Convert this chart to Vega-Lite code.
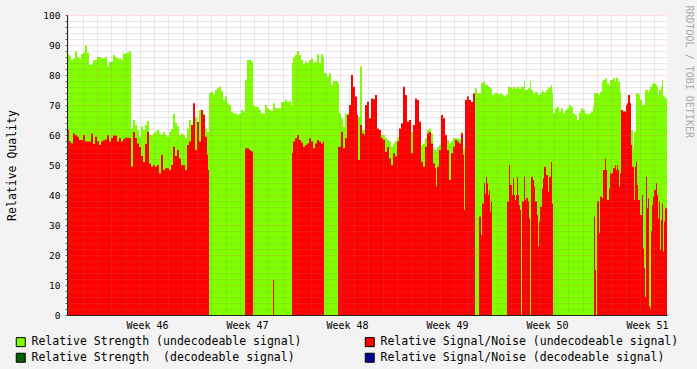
{
"$schema": "https://vega.github.io/schema/vega-lite/v6.json",
"width": 600, "height": 300,
"autosize": "none",
"padding": {"left": 67, "top": 15, "right": 30, "bottom": 54},
"background": "#f3f3f3",
"config": {"view": {"fill": "white", "stroke": null}, "font": "DejaVu Sans Mono"},
"data": {"values": [
{"day":0,"strength":86.9,"snr":61.7},{"day":0.14,"strength":86.5,"snr":57.8},{"day":0.28,"strength":85,"snr":57.2},{"day":0.42,"strength":85.5,"snr":60.5},{"day":0.56,"strength":87.8,"snr":60},{"day":0.7,"strength":86,"snr":59.4},{"day":0.84,"strength":85.5,"snr":58.3},{"day":0.98,"strength":87,"snr":58.3},{"day":1.12,"strength":87.5,"snr":60},{"day":1.26,"strength":89.8,"snr":57.8},{"day":1.4,"strength":87.5,"snr":57.8},{"day":1.54,"strength":83.3,"snr":57.8},{"day":1.68,"strength":83.5,"snr":60.5},{"day":1.82,"strength":85,"snr":57},{"day":1.96,"strength":85,"snr":59.4},{"day":2.1,"strength":86,"snr":57.8},{"day":2.24,"strength":86,"snr":56.7},{"day":2.38,"strength":85.5,"snr":57.8},{"day":2.52,"strength":85.5,"snr":58.3},{"day":2.66,"strength":86,"snr":58.5},{"day":2.8,"strength":82.8,"snr":60},{"day":2.94,"strength":84.4,"snr":57.8},{"day":3.08,"strength":84.4,"snr":59},{"day":3.22,"strength":86.7,"snr":59.8},{"day":3.36,"strength":86,"snr":59.8},{"day":3.5,"strength":85.5,"snr":57.8},{"day":3.64,"strength":85.5,"snr":59},{"day":3.78,"strength":85,"snr":57.8},{"day":3.92,"strength":87.2,"snr":58.7},{"day":4.06,"strength":87.2,"snr":59.1},{"day":4.2,"strength":87.5,"snr":59.1},{"day":4.34,"strength":88,"snr":59},
{"day":4.48,"strength":62.2,"snr":49.4},{"day":4.62,"strength":65,"snr":61},{"day":4.76,"strength":63.5,"snr":59},{"day":4.9,"strength":61.7,"snr":57.2},{"day":5.04,"strength":59.4,"snr":56},{"day":5.18,"strength":62.8,"snr":53},{"day":5.32,"strength":61.7,"snr":51},{"day":5.46,"strength":63.3,"snr":57},{"day":5.6,"strength":64.7,"snr":61},{"day":5.74,"strength":60,"snr":50.5},{"day":5.88,"strength":60,"snr":49.4},{"day":6.02,"strength":60.5,"snr":50},{"day":6.16,"strength":61.1,"snr":49.4},{"day":6.3,"strength":61.7,"snr":50},{"day":6.44,"strength":60.5,"snr":47.2},{"day":6.58,"strength":60,"snr":53.3},{"day":6.72,"strength":61.1,"snr":48.3},{"day":6.86,"strength":60,"snr":48.9},
{"day":7,"strength":59.4,"snr":48.9},{"day":7.14,"strength":61,"snr":48.3},{"day":7.28,"strength":62,"snr":50},{"day":7.42,"strength":67,"snr":56.1},{"day":7.56,"strength":64,"snr":53},{"day":7.7,"strength":62.8,"snr":55},{"day":7.84,"strength":60,"snr":52.2},{"day":7.98,"strength":60.5,"snr":50},{"day":8.12,"strength":60,"snr":50},{"day":8.26,"strength":58.9,"snr":48.3},{"day":8.4,"strength":62.2,"snr":56.7},{"day":8.54,"strength":65,"snr":57.8},{"day":8.68,"strength":63.3,"snr":63.3},{"day":8.82,"strength":67.2,"snr":70.6},{"day":8.96,"strength":66,"snr":55},{"day":9.1,"strength":60.5,"snr":64.4},{"day":9.24,"strength":68.3,"snr":57.8},{"day":9.38,"strength":66,"snr":68.3},{"day":9.52,"strength":67.2,"snr":66.7},{"day":9.66,"strength":62.2,"snr":59.4},{"day":9.8,"strength":61,"snr":53.3},{"day":9.87,"strength":61,"snr":48.3},
{"day":9.94,"strength":74,"snr":0},{"day":10.08,"strength":74.4,"snr":0},{"day":10.22,"strength":73.5,"snr":0},{"day":10.36,"strength":75,"snr":0},{"day":10.5,"strength":75.6,"snr":0},{"day":10.64,"strength":76.1,"snr":0},{"day":10.78,"strength":74.5,"snr":0},{"day":10.92,"strength":71.7,"snr":0},{"day":11.06,"strength":72.8,"snr":0},{"day":11.2,"strength":70.6,"snr":0},{"day":11.34,"strength":70,"snr":0},{"day":11.48,"strength":67.8,"snr":0},{"day":11.62,"strength":67.2,"snr":0},{"day":11.76,"strength":67.2,"snr":0},{"day":11.9,"strength":66.7,"snr":0},{"day":12.04,"strength":67.2,"snr":0},{"day":12.18,"strength":68.3,"snr":0},{"day":12.32,"strength":67.8,"snr":0},
{"day":12.46,"strength":78.3,"snr":55.6},{"day":12.6,"strength":85,"snr":55.6},{"day":12.74,"strength":85,"snr":55},{"day":12.88,"strength":84.4,"snr":54.5},
{"day":13.02,"strength":70,"snr":0},{"day":13.16,"strength":69.4,"snr":0},{"day":13.3,"strength":69.4,"snr":0},{"day":13.44,"strength":68.3,"snr":0},{"day":13.58,"strength":67.2,"snr":0},{"day":13.72,"strength":67.2,"snr":0},{"day":13.86,"strength":70,"snr":0},{"day":14,"strength":68.9,"snr":0},{"day":14.14,"strength":68.3,"snr":0},{"day":14.28,"strength":68,"snr":0},{"day":14.42,"strength":70.6,"snr":11.7},{"day":14.49,"strength":70.6,"snr":0},{"day":14.56,"strength":68.9,"snr":0},{"day":14.7,"strength":68.9,"snr":0},{"day":14.84,"strength":68.9,"snr":0},{"day":14.98,"strength":71,"snr":0},{"day":15.12,"strength":71,"snr":0},{"day":15.26,"strength":71.7,"snr":0},{"day":15.4,"strength":71,"snr":0},{"day":15.54,"strength":71.3,"snr":0},{"day":15.68,"strength":70,"snr":0},
{"day":15.75,"strength":84,"snr":54},{"day":15.82,"strength":85.8,"snr":57.8},{"day":15.96,"strength":86.7,"snr":58.9},{"day":16.1,"strength":88,"snr":60},{"day":16.24,"strength":86.7,"snr":58.3},{"day":16.38,"strength":85,"snr":57.5},{"day":16.52,"strength":83.6,"snr":56.1},{"day":16.66,"strength":84.4,"snr":56.7},{"day":16.8,"strength":84,"snr":57.2},{"day":16.94,"strength":85,"snr":58.9},{"day":17.08,"strength":85.5,"snr":57.8},{"day":17.22,"strength":84,"snr":55.6},{"day":17.36,"strength":84.4,"snr":57.2},{"day":17.5,"strength":86.9,"snr":58.3},{"day":17.64,"strength":84,"snr":57.8},{"day":17.78,"strength":86.9,"snr":57.2},{"day":17.92,"strength":85.8,"snr":57.8},
{"day":17.99,"strength":80.6,"snr":0},{"day":18.2,"strength":79.4,"snr":0},{"day":18.34,"strength":80.6,"snr":0},{"day":18.48,"strength":76.6,"snr":0},{"day":18.62,"strength":78,"snr":0},{"day":18.9,"strength":78,"snr":0},
{"day":18.97,"strength":77.2,"snr":56.1},{"day":19.04,"strength":67.2,"snr":56.1},{"day":19.18,"strength":65.6,"snr":61.1},{"day":19.32,"strength":62.8,"snr":55.6},{"day":19.46,"strength":67.2,"snr":58.9},{"day":19.6,"strength":67.2,"snr":66.7},{"day":19.74,"strength":68.3,"snr":70},{"day":19.88,"strength":72,"snr":80},{"day":20.02,"strength":72,"snr":76.1},{"day":20.16,"strength":66.7,"snr":72.8},{"day":20.3,"strength":66.7,"snr":66.7},{"day":20.37,"strength":66,"snr":51.7},{"day":20.51,"strength":82.8,"snr":63.3},{"day":20.65,"strength":61.7,"snr":60.5},{"day":20.79,"strength":61.7,"snr":60},{"day":20.86,"strength":61,"snr":70},
{"day":21,"strength":65,"snr":71.1},{"day":21.14,"strength":60,"snr":65.6},{"day":21.28,"strength":62,"snr":72.2},{"day":21.42,"strength":62,"snr":72},{"day":21.56,"strength":62,"snr":73.3},{"day":21.7,"strength":60,"snr":62.2},{"day":21.84,"strength":60,"snr":61.7},{"day":21.98,"strength":60,"snr":58.9},{"day":22.12,"strength":60,"snr":58.3},{"day":22.26,"strength":59,"snr":54.4},{"day":22.4,"strength":58.3,"snr":56},{"day":22.54,"strength":57.8,"snr":52.2},{"day":22.68,"strength":56.1,"snr":50},{"day":22.82,"strength":57.2,"snr":53.9},{"day":22.96,"strength":57.8,"snr":52.8},{"day":23.1,"strength":59.4,"snr":57.8},{"day":23.24,"strength":58,"snr":62.2},{"day":23.38,"strength":60,"snr":63.9},{"day":23.52,"strength":60,"snr":76.1},{"day":23.66,"strength":60,"snr":73.3},{"day":23.8,"strength":60,"snr":64.4},{"day":23.94,"strength":60,"snr":65},{"day":24.08,"strength":61,"snr":53.9},{"day":24.22,"strength":61,"snr":63.3},{"day":24.36,"strength":60,"snr":72.2},{"day":24.5,"strength":60,"snr":71.7},{"day":24.64,"strength":60,"snr":64.4},{"day":24.78,"strength":56.7,"snr":51.1},{"day":24.92,"strength":57.2,"snr":49.4},{"day":25.06,"strength":58.9,"snr":56.1},{"day":25.2,"strength":61.7,"snr":60.5},{"day":25.34,"strength":62.2,"snr":61},{"day":25.48,"strength":60.5,"snr":57.2},{"day":25.62,"strength":55.6,"snr":50.5},{"day":25.76,"strength":55,"snr":48.9},{"day":25.83,"strength":54.4,"snr":42.8},{"day":25.9,"strength":56,"snr":49.4},{"day":26.04,"strength":56.7,"snr":55},{"day":26.18,"strength":60,"snr":66.7},{"day":26.32,"strength":60,"snr":65.6},{"day":26.46,"strength":60,"snr":60},{"day":26.6,"strength":58.3,"snr":55},{"day":26.74,"strength":57.2,"snr":45},{"day":26.88,"strength":57.8,"snr":53.9},{"day":27.02,"strength":58.9,"snr":56.1},{"day":27.16,"strength":58.9,"snr":58.3},{"day":27.3,"strength":58.9,"snr":57.8},{"day":27.44,"strength":58.7,"snr":57.2},{"day":27.58,"strength":61,"snr":60.5},{"day":27.72,"strength":55.6,"snr":53.3},{"day":27.79,"strength":55.6,"snr":35},{"day":27.86,"strength":55,"snr":71.7},
{"day":28,"strength":65,"snr":72.8},{"day":28.14,"strength":65,"snr":71.7},{"day":28.28,"strength":65,"snr":71},{"day":28.42,"strength":70,"snr":73.9},{"day":28.56,"strength":75.6,"snr":0},{"day":28.7,"strength":73.9,"snr":0},{"day":28.84,"strength":73.9,"snr":32.8},{"day":28.98,"strength":77.2,"snr":26.7},{"day":29.05,"strength":77.5,"snr":37.2},{"day":29.19,"strength":78,"snr":43.9},{"day":29.26,"strength":76.7,"snr":40.5},{"day":29.33,"strength":76.7,"snr":46.1},{"day":29.4,"strength":76.7,"snr":43.9},{"day":29.47,"strength":76.1,"snr":40},{"day":29.54,"strength":76,"snr":41.5},{"day":29.61,"strength":75.6,"snr":34.4},{"day":29.68,"strength":75.6,"snr":37.8},
{"day":29.75,"strength":73.3,"snr":0},{"day":29.89,"strength":73.9,"snr":0},{"day":30.03,"strength":74.1,"snr":0},{"day":30.17,"strength":73.7,"snr":0},{"day":30.31,"strength":73.9,"snr":0},{"day":30.45,"strength":73.3,"snr":0},{"day":30.59,"strength":72.8,"snr":0},{"day":30.73,"strength":73.5,"snr":0},
{"day":30.8,"strength":73.5,"snr":37.8},{"day":30.87,"strength":76,"snr":37.8},{"day":30.94,"strength":76.1,"snr":50},{"day":31.01,"strength":75.8,"snr":43.3},{"day":31.15,"strength":75.3,"snr":40},{"day":31.22,"strength":76.1,"snr":45.6},{"day":31.29,"strength":76,"snr":40},{"day":31.36,"strength":75.3,"snr":38.3},{"day":31.43,"strength":75.8,"snr":40},{"day":31.5,"strength":76,"snr":46.1},{"day":31.57,"strength":76.1,"snr":40},{"day":31.64,"strength":75.3,"snr":36.7},{"day":31.71,"strength":75.3,"snr":35},{"day":31.78,"strength":76.1,"snr":0},{"day":31.85,"strength":76,"snr":37.8},{"day":31.99,"strength":77.8,"snr":46.1},{"day":32.06,"strength":75,"snr":38.3},{"day":32.13,"strength":75,"snr":39},{"day":32.27,"strength":75.6,"snr":37.8},{"day":32.34,"strength":75.6,"snr":32.2},{"day":32.41,"strength":78,"snr":0},{"day":32.48,"strength":75,"snr":46.1},{"day":32.62,"strength":73.9,"snr":45},{"day":32.69,"strength":73.9,"snr":42.8},{"day":32.76,"strength":74.4,"snr":37.8},{"day":32.9,"strength":74.2,"snr":33.3},{"day":32.97,"strength":73.3,"snr":22.8},{"day":33.04,"strength":73.3,"snr":31.1},{"day":33.11,"strength":73.9,"snr":36.1},{"day":33.25,"strength":75,"snr":42.2},{"day":33.32,"strength":74.4,"snr":45.6},{"day":33.39,"strength":74.2,"snr":49.4},{"day":33.53,"strength":75,"snr":46.7},{"day":33.67,"strength":75.8,"snr":41.1},{"day":33.74,"strength":75.8,"snr":46.1},{"day":33.88,"strength":76.7,"snr":51.1},{"day":33.95,"strength":74,"snr":37.2},
{"day":34.02,"strength":67.2,"snr":0},{"day":34.16,"strength":68.9,"snr":0},{"day":34.3,"strength":69.4,"snr":0},{"day":34.44,"strength":67.8,"snr":0},{"day":34.58,"strength":68.9,"snr":0},{"day":34.72,"strength":67.2,"snr":0},{"day":34.86,"strength":68.3,"snr":0},{"day":35,"strength":68.9,"snr":0},{"day":35.14,"strength":70,"snr":0},{"day":35.28,"strength":69.4,"snr":0},{"day":35.42,"strength":67.2,"snr":0},{"day":35.56,"strength":66.7,"snr":0},{"day":35.7,"strength":65,"snr":0},{"day":35.84,"strength":67.5,"snr":0},{"day":35.98,"strength":68.9,"snr":0},{"day":36.12,"strength":68.3,"snr":0},{"day":36.26,"strength":67.2,"snr":0},{"day":36.4,"strength":66.9,"snr":0},{"day":36.54,"strength":67.2,"snr":0},{"day":36.68,"strength":67.8,"snr":0},{"day":36.82,"strength":69.5,"snr":0},
{"day":36.89,"strength":73.9,"snr":32.8},{"day":36.96,"strength":73.9,"snr":15},{"day":37.03,"strength":73.9,"snr":0},{"day":37.1,"strength":73.9,"snr":37.8},{"day":37.24,"strength":73.3,"snr":27.2},{"day":37.31,"strength":74.4,"snr":39.4},{"day":37.45,"strength":77.8,"snr":38.9},{"day":37.52,"strength":78.3,"snr":48.3},{"day":37.66,"strength":78.9,"snr":52.2},{"day":37.73,"strength":78.9,"snr":48.3},{"day":37.8,"strength":77.2,"snr":38.3},{"day":37.94,"strength":76.4,"snr":42.2},{"day":38.01,"strength":78.3,"snr":47.2},{"day":38.22,"strength":79,"snr":48.9},{"day":38.36,"strength":77.8,"snr":50},{"day":38.43,"strength":79.1,"snr":48.3},{"day":38.5,"strength":79.1,"snr":50},{"day":38.57,"strength":77.8,"snr":48.3},{"day":38.64,"strength":77.8,"snr":42.8},{"day":38.71,"strength":74.4,"snr":47.2},{"day":38.78,"strength":68,"snr":68.3},{"day":38.92,"strength":68,"snr":67.8},{"day":39.13,"strength":68,"snr":70},{"day":39.2,"strength":68,"snr":70.6},{"day":39.27,"strength":68,"snr":73.3},{"day":39.41,"strength":68,"snr":70.6},{"day":39.48,"strength":61.7,"snr":56.7},{"day":39.55,"strength":61.7,"snr":49.4},{"day":39.62,"strength":55.6,"snr":49.4},{"day":39.69,"strength":61,"snr":38.3},{"day":39.76,"strength":61,"snr":49.4},{"day":39.83,"strength":73.9,"snr":51.1},{"day":39.9,"strength":73.9,"snr":43.3},{"day":39.97,"strength":73.9,"snr":38.3},{"day":40.04,"strength":73.3,"snr":38.3},{"day":40.11,"strength":71.7,"snr":33.3},{"day":40.25,"strength":70,"snr":40},{"day":40.32,"strength":70,"snr":22.2},{"day":40.39,"strength":70,"snr":15.6},{"day":40.46,"strength":75,"snr":6},{"day":40.53,"strength":75,"snr":46.1},{"day":40.6,"strength":75,"snr":35.6},{"day":40.67,"strength":74,"snr":38.9},{"day":40.74,"strength":75,"snr":3},{"day":40.81,"strength":76.1,"snr":2.2},{"day":40.88,"strength":76.1,"snr":27.8},{"day":40.95,"strength":77.2,"snr":36.7},{"day":41.02,"strength":77.2,"snr":39.4},{"day":41.09,"strength":77.2,"snr":41.7},{"day":41.23,"strength":76.7,"snr":43.9},{"day":41.3,"strength":76.1,"snr":40},{"day":41.37,"strength":73.3,"snr":32.2},{"day":41.44,"strength":75,"snr":37.8},{"day":41.51,"strength":75,"snr":21.7},{"day":41.58,"strength":76,"snr":31.7},{"day":41.65,"strength":78.3,"snr":37.2},{"day":41.72,"strength":73,"snr":21.1},{"day":41.79,"strength":72.8,"snr":31.1},{"day":41.86,"strength":72.2,"snr":35.6},{"day":42,"strength":72.2,"snr":35.6}
]},
"encoding": {
  "x": {"field": "day", "type": "quantitative",
    "scale": {"domain": [0, 42], "nice": false, "zero": false},
    "axis": {
      "values": [0.1,1.1,2.1,3.1,4.1,5.1,6.1,7.1,8.1,9.1,10.1,11.1,12.1,13.1,14.1,15.1,16.1,17.1,18.1,19.1,20.1,21.1,22.1,23.1,24.1,25.1,26.1,27.1,28.1,29.1,30.1,31.1,32.1,33.1,34.1,35.1,36.1,37.1,38.1,39.1,40.1,41.1,5.6,12.6,19.6,26.6,33.6,40.6],
      "labelExpr": "abs((datum.value - 5.6) / 7 - round((datum.value - 5.6) / 7)) < 0.001 ? 'Week ' + (46 + round((datum.value - 5.6) / 7)) : ''",
      "grid": true,
      "gridColor": {"condition": {"test": "abs((datum.value - 2.1) / 7 - round((datum.value - 2.1) / 7)) < 0.001", "value": "#ff5050"}, "value": "#808080"},
      "gridOpacity": {"condition": {"test": "abs((datum.value - 5.6) / 7 - round((datum.value - 5.6) / 7)) < 0.001", "value": 0}, "value": 0.35},
      "gridDash": [1, 1],
      "ticks": false, "domain": true, "domainColor": "#222222",
      "labelFont": "DejaVu Sans Mono", "labelFontSize": 10, "labelColor": "black",
      "labelPadding": 5, "labelFlush": false, "labelOverlap": false,
      "title": null, "zindex": 1
    }
  }
},
"layer": [
  {
    "mark": {"type": "area", "interpolate": "step-after"},
    "encoding": {
      "y": {"field": "strength", "type": "quantitative", "stack": null,
        "scale": {"domain": [0, 100], "nice": false},
        "axis": {
          "values": [0,2,4,6,8,10,12,14,16,18,20,22,24,26,28,30,32,34,36,38,40,42,44,46,48,50,52,54,56,58,60,62,64,66,68,70,72,74,76,78,80,82,84,86,88,90,92,94,96,98,100],
          "labelExpr": "datum.value % 10 == 0 ? datum.value : ''",
          "grid": true,
          "gridColor": {"condition": {"test": "datum.value % 10 == 0", "value": "#ff5050"}, "value": "#808080"},
          "gridOpacity": 0.35, "gridDash": [1, 1],
          "ticks": true, "tickSize": 2, "tickColor": "#666666",
          "domain": true, "domainColor": "#222222",
          "labelFont": "DejaVu Sans Mono", "labelFontSize": 9.5, "labelColor": "black", "labelPadding": 5,
          "labelOverlap": false, "labelFlush": false,
          "title": "Relative Quality", "titleFont": "DejaVu Sans Mono", "titleFontSize": 11.5, "titleFontWeight": "normal", "titleColor": "black",
          "titleX": -55, "titleY": 150, "titleAngle": 270, "titleAlign": "center", "titleBaseline": "middle",
          "zindex": 1
        }
      },
      "color": {"datum": "Relative Strength (undecodeable signal)",
        "scale": {"domain": ["Relative Strength (undecodeable signal)", "Relative Signal/Noise (undecodeable signal)", "Relative Strength\u00a0 (decodeable signal)", "Relative Signal/Noise (decodeable signal)"],
                  "range": ["#80ff00", "#ff0000", "#006400", "#000099"]},
        "legend": {"title": null, "orient": "none", "legendX": -52, "legendY": 321, "direction": "horizontal", "columns": 2, "columnPadding": 61, "rowPadding": 2,
          "symbolType": "square", "symbolSize": 81, "symbolStrokeColor": "black", "symbolStrokeWidth": 1, "symbolOpacity": 1,
          "labelFont": "DejaVu Sans Mono", "labelFontSize": 11.5, "labelColor": "black", "labelLimit": 400, "labelOffset": 5}
      }
    }
  },
  {
    "mark": {"type": "area", "interpolate": "step-after"},
    "encoding": {
      "y": {"field": "snr", "type": "quantitative", "stack": null,
        "scale": {"domain": [0, 100], "nice": false},
        "axis": {"orient": "right", "grid": false, "ticks": false, "labels": false, "domain": false,
          "title": "RRDTOOL / TOBI OETIKER", "titleFont": "DejaVu Sans Mono", "titleFontSize": 10, "titleFontWeight": "normal", "titleColor": "#aaaaaa",
          "titleAngle": 90, "titleX": 21, "titleY": -10, "titleAlign": "left", "titleBaseline": "middle"}
      },
      "color": {"datum": "Relative Signal/Noise (undecodeable signal)",
        "scale": {"domain": ["Relative Strength (undecodeable signal)", "Relative Signal/Noise (undecodeable signal)", "Relative Strength\u00a0 (decodeable signal)", "Relative Signal/Noise (decodeable signal)"],
                  "range": ["#80ff00", "#ff0000", "#006400", "#000099"]},
        "legend": {"title": null, "orient": "none", "legendX": -52, "legendY": 321, "direction": "horizontal", "columns": 2, "columnPadding": 61, "rowPadding": 2,
          "symbolType": "square", "symbolSize": 81, "symbolStrokeColor": "black", "symbolStrokeWidth": 1, "symbolOpacity": 1,
          "labelFont": "DejaVu Sans Mono", "labelFontSize": 11.5, "labelColor": "black", "labelLimit": 400, "labelOffset": 5}
      }
    }
  }
],
"resolve": {"axis": {"y": "independent"}}
}
